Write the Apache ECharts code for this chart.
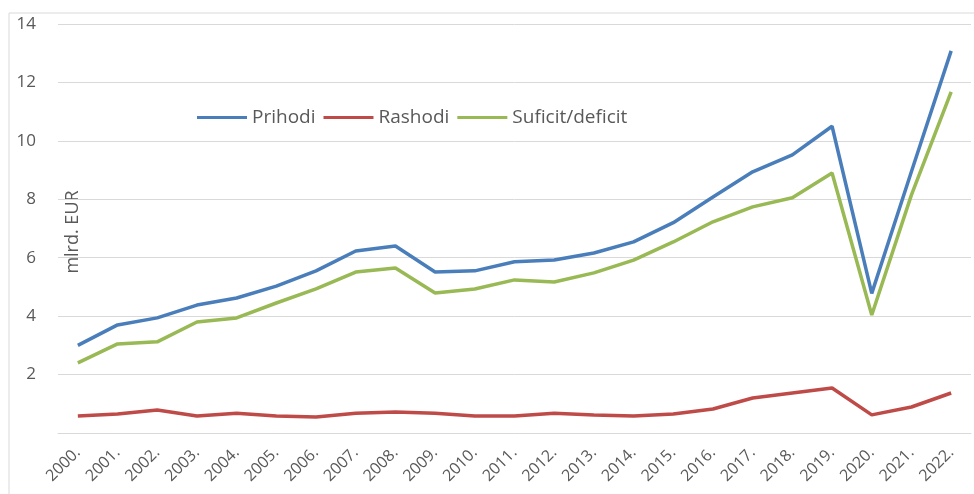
<!DOCTYPE html>
<html>
<head>
<meta charset="utf-8">
<script src="https://cdn.jsdelivr.net/npm/echarts@6/dist/echarts.min.js"></script>
<style>html,body{margin:0;padding:0;background:#fff}#c{width:974px;height:494px}</style>
</head>
<body>
<div id="c"></div>
<script>
const years = ['2000.','2001.','2002.','2003.','2004.','2005.','2006.','2007.','2008.','2009.','2010.','2011.','2012.','2013.','2014.','2015.','2016.','2017.','2018.','2019.','2020.','2021.','2022.'];
const prihodi = [3.0,3.7,3.94,4.38,4.62,5.03,5.55,6.23,6.4,5.51,5.55,5.86,5.92,6.16,6.54,7.2,8.08,8.94,9.52,10.5,4.78,8.95,13.08];
const rashodi = [0.58,0.65,0.79,0.58,0.68,0.58,0.55,0.68,0.72,0.68,0.58,0.58,0.68,0.62,0.58,0.65,0.82,1.2,1.37,1.54,0.62,0.89,1.37];
const suficit = [2.4,3.05,3.12,3.8,3.94,4.45,4.93,5.51,5.65,4.79,4.93,5.24,5.17,5.48,5.92,6.54,7.23,7.74,8.05,8.9,4.04,8.15,11.68];
const yTicks = [0,2,4,6,8,10,12,14];

const font = '"Open Sans", "Liberation Sans", sans-serif';
const chart = echarts.init(document.getElementById('c'));
chart.setOption({
  animation: false,
  graphic: [
    {type:'rect', shape:{x:9,y:13,width:1000,height:600}, style:{fill:null, stroke:'#d9d9d9', lineWidth:1}, silent:true},
    {type:'text', x:73, y:232, rotation:Math.PI/2, style:{text:'mlrd. EUR', fill:'#595959', font:'18px "Open Sans", sans-serif', align:'center', verticalAlign:'middle'}, silent:true}
  ],
  grid: {left:58, right:3, top:24, bottom:61, outerBoundsMode:'none', containLabel:false},
  legend: {
    left: 192, top: 103, itemWidth: 50, itemHeight: 3, itemGap: 8,
    icon: 'rect',
    textStyle: {color:'#595959', fontSize:19, fontFamily: font},
    data: ['Prihodi','Rashodi','Suficit/deficit']
  },
  xAxis: {
    type:'category', data: years, boundaryGap:true,
    axisLine:{show:true, lineStyle:{color:'#d9d9d9', width:1}},
    axisTick:{show:false},
    axisLabel:{rotate:45, color:'#595959', fontSize:16, fontFamily:font, interval:0, margin:17}
  },
  yAxis: {
    type:'value', min:yTicks[0], max:yTicks[yTicks.length-1], interval:2,
    axisLine:{show:false}, axisTick:{show:false},
    axisLabel:{color:'#595959', fontSize:17, fontFamily:font, margin:22, formatter: v => v === 0 ? '' : String(v)},
    splitLine:{lineStyle:{color:'#d9d9d9', width:1}}
  },
  series: [
    {name:'Prihodi', type:'line', data:prihodi, showSymbol:false, symbol:'none', lineStyle:{width:3.5, color:'#4a7ebb'}, itemStyle:{color:'#4a7ebb'}},
    {name:'Rashodi', type:'line', data:rashodi, showSymbol:false, symbol:'none', lineStyle:{width:3.5, color:'#be4b48'}, itemStyle:{color:'#be4b48'}},
    {name:'Suficit/deficit', type:'line', data:suficit, showSymbol:false, symbol:'none', lineStyle:{width:3.5, color:'#98b954'}, itemStyle:{color:'#98b954'}}
  ]
});
</script>
</body>
</html>
